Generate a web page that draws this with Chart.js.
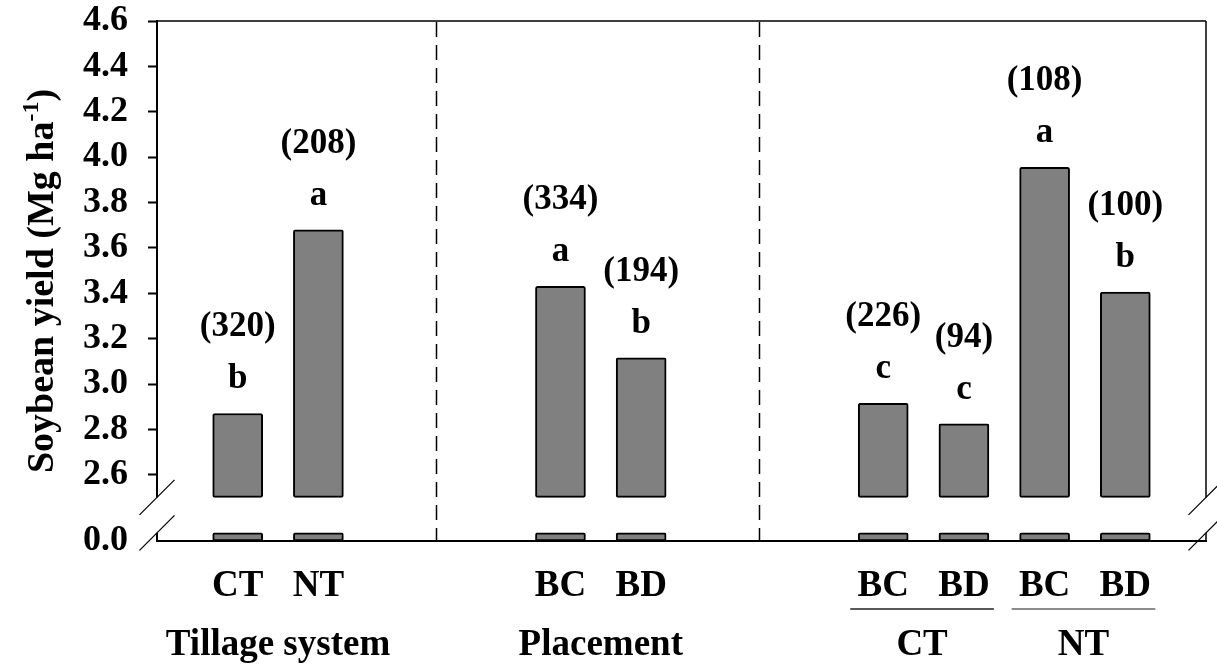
<!DOCTYPE html>
<html>
<head>
<meta charset="utf-8">
<script src="https://cdn.jsdelivr.net/npm/chart.js@4.4.1/dist/chart.umd.min.js"></script>
<style>
  html, body { margin: 0; padding: 0; background: #fff; }
</style>
</head>
<body>
<canvas id="yieldChart" width="1217" height="667"></canvas>
<script>
// categories and values
const categories = ["CT", "NT", "BC", "BD", "BC", "BD", "BC", "BD"];
const panelOf = [0, 0, 1, 1, 2, 2, 2, 2];
const panelNames = ["Tillage system", "Placement", ""];
const subGroupOf = ["", "", "", "", "CT", "CT", "NT", "NT"];
const yields = [2.87, 3.68, 3.43, 3.115, 2.915, 2.825, 3.955, 3.405];
const letters = ["b", "a", "a", "b", "c", "c", "a", "b"];
const counts = ["(320)", "(208)", "(334)", "(194)", "(226)", "(94)", "(108)", "(100)"];
const yTicks = [0.0, 2.6, 2.8, 3.0, 3.2, 3.4, 3.6, 3.8, 4.0, 4.2, 4.4, 4.6];

// broken axis: 0 sits just under the 2.6 tick, bars restart at 2.5
const ZERO_AT = 2.308;
const BREAK_AT = 2.5;
const STUB = 0.036;
const FONT = "'Liberation Serif', 'Times New Roman', serif";

function toAxis(v) {
    return v < 1 ? ZERO_AT + v : v;
}

// build slot list with blank slots between panels
let slots = [""];
let slotOf = [];
categories.forEach((c, i) => {
    if (i > 0 && panelOf[i] !== panelOf[i - 1]) slots.push("", "");
    slotOf.push(slots.length);
    slots.push(c);
});
slots.push("");

const barData = slots.map(() => null);
const stubData = slots.map(() => null);
slotOf.forEach((s, i) => {
    barData[s] = [BREAK_AT, yields[i]];
    stubData[s] = [toAxis(0), toAxis(STUB)];
});

const barStyle = {
    backgroundColor: "#808080",
    borderColor: "#000",
    borderWidth: 2,
    borderSkipped: false,
    borderRadius: 2,
    barThickness: 50,
    grouped: false
};

//Dibujar extras: bordes, corte del eje, textos
const decorPlugin = {
    id: "decor",
    beforeDatasetsDraw(chart) {
        const ctx = chart.ctx;
        const x = chart.scales.x;
        const area = chart.chartArea;
        ctx.save();
        ctx.strokeStyle = "#000";
        ctx.lineWidth = 1.5;
        ctx.setLineDash([15, 8]);
        for (let i = 1; i < categories.length; i++) {
            if (panelOf[i] === panelOf[i - 1]) continue;
            const px = Math.round(x.getPixelForValue((slotOf[i - 1] + slotOf[i]) / 2 - 0.04)) + 0.5;
            ctx.beginPath();
            ctx.moveTo(px, area.top + 1);
            ctx.lineTo(px, area.bottom);
            ctx.stroke();
        }
        ctx.restore();
    },
    afterDraw(chart) {
        const ctx = chart.ctx;
        const x = chart.scales.x;
        const y = chart.scales.y;
        const area = chart.chartArea;
        const yTop = y.getPixelForValue(BREAK_AT);
        const yBot = y.getPixelForValue(toAxis(STUB));

        ctx.save();
        // top and right frame
        ctx.strokeStyle = "#000";
        ctx.lineWidth = 1.5;
        ctx.beginPath();
        ctx.moveTo(area.left, area.top);
        ctx.lineTo(area.right, area.top);
        ctx.moveTo(area.right, area.top);
        ctx.lineTo(area.right, yTop);
        ctx.moveTo(area.right, yBot);
        ctx.lineTo(area.right, area.bottom);
        ctx.stroke();

        // gap in the y axis line
        ctx.fillStyle = "#fff";
        ctx.fillRect(area.left - 3, yTop, 6, yBot - yTop);

        // break marks
        ctx.lineWidth = 1.2;
        [area.left, area.right].forEach(bx => {
            [yTop, yBot].forEach(by => {
                ctx.beginPath();
                ctx.moveTo(bx - 17.5, by + 17.5);
                ctx.lineTo(bx + 17.5, by - 17.5);
                ctx.stroke();
            });
        });

        // letters and counts above bars
        ctx.fillStyle = "#000";
        ctx.textAlign = "center";
        ctx.textBaseline = "alphabetic";
        ctx.font = "bold 35px " + FONT;
        yields.forEach((v, i) => {
            const px = x.getPixelForValue(slotOf[i]);
            const top = y.getPixelForValue(v);
            ctx.fillText(letters[i], px, top - 25);
            ctx.fillText(counts[i], px, top - 77);
        });

        // category labels
        ctx.font = "bold 37px " + FONT;
        categories.forEach((c, i) => {
            ctx.fillText(c, x.getPixelForValue(slotOf[i]), 596);
        });

        // panel labels
        panelNames.forEach((name, p) => {
            if (!name) return;
            const s = slotOf.filter((_, i) => panelOf[i] === p);
            const cx = x.getPixelForValue((s[0] + s[s.length - 1]) / 2);
            ctx.fillText(name, cx, 655);
        });

        // sub groups with underline
        const subs = [...new Set(subGroupOf.filter(g => g))];
        subs.forEach((g, k) => {
            const s = slotOf.filter((_, i) => subGroupOf[i] === g);
            const x0 = x.getPixelForValue(s[0]) - 33;
            const x1 = x.getPixelForValue(s[s.length - 1]) + 30;
            ctx.strokeStyle = k === 0 ? "#222" : "#666";
            ctx.lineWidth = 1.5;
            ctx.setLineDash([]);
            ctx.beginPath();
            ctx.moveTo(x0, 609);
            ctx.lineTo(x1, 609);
            ctx.stroke();
            ctx.fillText(g, (x0 + x1) / 2, 655);
        });

        // y axis title with superscript
        ctx.translate(53, 281);
        ctx.rotate(-Math.PI / 2);
        ctx.textAlign = "left";
        const main = "Soybean yield (Mg ha";
        const sup = "-1";
        const end = ")";
        ctx.font = "bold 38px " + FONT;
        const w1 = ctx.measureText(main).width;
        const w3 = ctx.measureText(end).width;
        ctx.font = "bold 24px " + FONT;
        const w2 = ctx.measureText(sup).width;
        let x0 = -(w1 + w2 + w3) / 2;
        ctx.font = "bold 38px " + FONT;
        ctx.fillText(main, x0, 0);
        ctx.font = "bold 24px " + FONT;
        ctx.fillText(sup, x0 + w1, -15);
        ctx.font = "bold 38px " + FONT;
        ctx.fillText(end, x0 + w1 + w2, 0);
        ctx.restore();
    }
};

new Chart(document.getElementById("yieldChart"), {
    type: "bar",
    data: {
        labels: slots,
        datasets: [
            Object.assign({ label: "yield", data: barData }, barStyle),
            Object.assign({ label: "stub", data: stubData }, barStyle)
        ]
    },
    options: {
        responsive: false,
        animation: false,
        devicePixelRatio: 1,
        layout: { padding: { top: 21, right: 11, left: 0, bottom: 0 } },
        plugins: {
            legend: { display: false },
            tooltip: { enabled: false }
        },
        scales: {
            x: {
                type: "category",
                offset: false,
                grid: { display: false, drawTicks: false },
                border: { display: true, color: "#000", width: 2 },
                ticks: { display: false },
                afterFit: s => { s.height = 126; s.paddingLeft = 0; s.paddingRight = 0; }
            },
            y: {
                min: ZERO_AT,
                max: 4.6,
                afterBuildTicks: s => {
                    s.ticks = yTicks.map(v => ({ value: toAxis(v) }));
                },
                ticks: {
                    autoSkip: false,
                    callback: (value, index) => yTicks[index].toFixed(1),
                    font: { family: FONT, size: 36, weight: "bold" },
                    color: "#000",
                    padding: 20
                },
                grid: {
                    drawOnChartArea: false,
                    tickLength: 9,
                    tickWidth: 2,
                    tickColor: c => (c.tick && c.tick.value < BREAK_AT) ? "rgba(0,0,0,0)" : "#000"
                },
                border: { display: true, color: "#000", width: 2 },
                afterFit: s => { s.width = 157; s.paddingTop = 0; s.paddingBottom = 0; }
            }
        }
    },
    plugins: [decorPlugin]
});
</script>
</body>
</html>
